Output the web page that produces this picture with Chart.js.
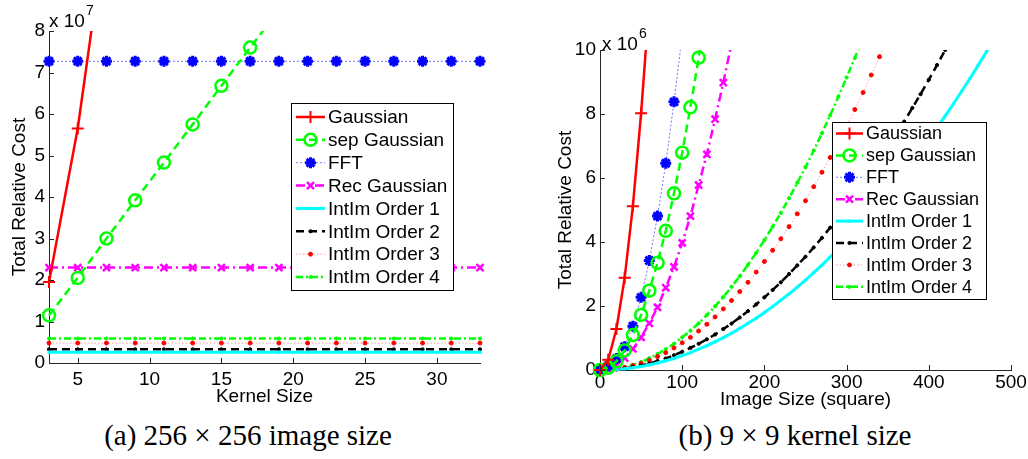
<!DOCTYPE html>
<html>
<head>
<meta charset="utf-8">
<script src="https://cdn.jsdelivr.net/npm/chart.js@4.4.1/dist/chart.umd.min.js"></script>
<style>
  body { margin: 0; background: #fff; width: 1028px; height: 459px; position: relative; overflow: hidden; }
  .box { position: absolute; top: 0; height: 415px; }
  .cap { position: absolute; top: 421px; font-family: "Liberation Serif", serif; font-size: 29px; line-height: 29px; white-space: nowrap; transform: translateX(-50%); }
</style>
</head>
<body>
<div class="box" style="left:0;width:505px"><canvas id="kernelChart"></canvas></div>
<div class="box" style="left:520px;width:508px"><canvas id="imageChart"></canvas></div>
<div class="cap" style="left:248px">(a) 256 × 256 image size</div>
<div class="cap" style="left:795px">(b) 9 × 9 kernel size</div>

<script>
// (a) 256x256 image : cost against kernel size, values in units of 1e7
const kernelSizes = [3, 5, 7, 9, 11, 13, 15, 17, 19, 21, 23, 25, 27, 29, 31, 33];
const kernelTicksX = [5, 10, 15, 20, 25, 30];
const kernelTicksY = [0, 1, 2, 3, 4, 5, 6, 7, 8];
const kGaussian = [1.95, 5.65, 10.6];
const kSepGaussian = [1.15, 2.05, 3.0, 3.92, 4.83, 5.75, 6.68, 7.6, 8.5];
const kFFT = [7.27, 7.27, 7.27, 7.27, 7.27, 7.27, 7.27, 7.27, 7.27, 7.27, 7.27, 7.27, 7.27, 7.27, 7.27, 7.27];
const kRecGaussian = [2.3, 2.3, 2.3, 2.3, 2.3, 2.3, 2.3, 2.3, 2.3, 2.3, 2.3, 2.3, 2.3, 2.3, 2.3, 2.3];
const kOrder1 = [0.26, 0.26, 0.26, 0.26, 0.26, 0.26, 0.26, 0.26, 0.26, 0.26, 0.26, 0.26, 0.26, 0.26, 0.26, 0.26];
const kOrder2 = [0.33, 0.33, 0.33, 0.33, 0.33, 0.33, 0.33, 0.33, 0.33, 0.33, 0.33, 0.33, 0.33, 0.33, 0.33, 0.33];
const kOrder3 = [0.48, 0.48, 0.48, 0.48, 0.48, 0.48, 0.48, 0.48, 0.48, 0.48, 0.48, 0.48, 0.48, 0.48, 0.48, 0.48];
const kOrder4 = [0.59, 0.59, 0.59, 0.59, 0.59, 0.59, 0.59, 0.59, 0.59, 0.59, 0.59, 0.59, 0.59, 0.59, 0.59, 0.59];

// (b) 9x9 kernel : cost against image size, values in units of 1e6
const imageSizes = [0, 10, 20, 30, 40, 50, 60, 70, 80, 90, 100, 110, 120, 130, 140, 150, 160, 170, 180, 190,
  200, 210, 220, 230, 240, 250, 260, 270, 280, 290, 300, 310, 320, 330, 340, 350, 360, 370, 380, 390,
  400, 410, 420, 430, 440, 450, 460, 470, 480, 490, 500];
const imageTicksX = [0, 100, 200, 300, 400, 500];
const imageTicksY = [0, 2, 4, 6, 8, 10];
const rGaussian = [0, 0.32, 1.28, 2.88, 5.12, 8.02, 11.5];
const rSepGaussian = [0, 0.07, 0.27, 0.61, 1.09, 1.72, 2.48, 3.35, 4.35, 5.52, 6.79, 8.21, 9.76, 11.46];
const rFFT = [0, 0.14, 0.36, 0.73, 1.37, 2.27, 3.42, 4.81, 6.46, 8.38, 10.45];
const rRecGaussian = [0, 0.04, 0.16, 0.37, 0.66, 1.02, 1.46, 1.96, 2.57, 3.22, 3.97, 4.81, 5.78, 6.74, 7.84, 8.98, 10.2];
const rOrder1 = [0, 0.005, 0.02, 0.04, 0.07, 0.11, 0.16, 0.22, 0.29, 0.36, 0.45, 0.54, 0.65, 0.76, 0.88, 1.01,
  1.15, 1.30, 1.46, 1.62, 1.80, 1.98, 2.18, 2.38, 2.59, 2.81, 3.04, 3.28, 3.53, 3.78, 4.05, 4.32, 4.61, 4.90,
  5.20, 5.51, 5.83, 6.16, 6.50, 6.84, 7.20, 7.56, 7.94, 8.32, 8.71, 9.11, 9.52, 9.94, 10.37];
const rOrder2 = [0, 0.006, 0.02, 0.05, 0.09, 0.14, 0.20, 0.28, 0.36, 0.46, 0.57, 0.69, 0.82, 0.96, 1.11, 1.28,
  1.45, 1.64, 1.84, 2.05, 2.27, 2.50, 2.74, 3.00, 3.27, 3.54, 3.83, 4.13, 4.45, 4.77, 5.10, 5.45, 5.81, 6.18,
  6.56, 6.95, 7.35, 7.76, 8.19, 8.62, 9.07, 9.53, 10.00, 10.48];
const rOrder3 = [0, 0.008, 0.03, 0.08, 0.14, 0.21, 0.30, 0.42, 0.54, 0.69, 0.85, 1.02, 1.22, 1.43, 1.66, 1.91,
  2.17, 2.45, 2.74, 3.06, 3.39, 3.74, 4.10, 4.48, 4.88, 5.29, 5.73, 6.18, 6.64, 7.12, 7.62, 8.14, 8.67, 9.22,
  9.79, 10.38];
const rOrder4 = [0, 0.01, 0.04, 0.09, 0.16, 0.25, 0.37, 0.50, 0.65, 0.82, 1.02, 1.23, 1.46, 1.72, 1.99, 2.28,
  2.60, 2.93, 3.29, 3.66, 4.06, 4.48, 4.91, 5.37, 5.85, 6.34, 6.86, 7.40, 7.96, 8.54, 9.14, 9.75, 10.39];

const seriesNames = ['Gaussian', 'sep Gaussian', 'FFT', 'Rec Gaussian',
  'IntIm Order 1', 'IntIm Order 2', 'IntIm Order 3', 'IntIm Order 4'];

// look of each series (MATLAB style)
const seriesLook = [
  { line: '#ff0000', width: 2.5, dash: [], point: 'cross', r: 6, pw: 2, pc: '#ff0000' },
  { line: '#00ff00', width: 2.5, dash: [8, 5], point: 'circle', r: 6, pw: 2.5, pc: '#00ff00', fill: 'rgba(0,0,0,0)' },
  { line: 'rgba(70,70,255,0.75)', width: 1, dash: [2, 2], point: 'star', r: 5.5, pw: 3, pc: '#0000ff' },
  { line: '#ff00ff', width: 2.5, dash: [9, 4, 2, 4], point: 'crossRot', r: 5, pw: 2.5, pc: '#ff00ff' },
  { line: '#00ffff', width: 3, dash: [], point: 'circle', r: 1.3, pw: 1, pc: '#00ffff' },
  { line: '#000000', width: 2.5, dash: [8, 5], point: 'circle', r: 1.6, pw: 1, pc: '#000000' },
  { line: 'rgba(255,60,60,0.5)', width: 1, dash: [1.5, 2], point: 'circle', r: 2, pw: 1, pc: '#ff0000' },
  { line: '#00ff00', width: 2.5, dash: [7, 3, 2, 3], point: 'circle', r: 1.6, pw: 1, pc: '#00ff00' }
];

Chart.defaults.font.family = '"Liberation Sans", Arial, sans-serif';
Chart.defaults.color = '#000';

function buildDatasets(xs, ys) {
  return ys.map((vals, i) => {
    const s = seriesLook[i];
    return {
      label: seriesNames[i],
      data: vals.map((v, j) => ({ x: xs[j], y: v })),
      borderColor: s.line,
      borderWidth: s.width,
      borderDash: s.dash,
      pointStyle: s.point,
      pointRadius: s.r,
      pointBorderWidth: s.pw,
      pointBorderColor: s.pc,
      pointBackgroundColor: s.fill || s.pc,
      fill: false,
      tension: 0,
      clip: { left: 10, right: 10, top: 0, bottom: 10 }
    };
  });
}

// legend drawn inside the plot, like matlab
const boxLegend = {
  id: 'boxLegend',
  afterDatasetsDraw(chart, args, o) {
    const ctx = chart.ctx;
    ctx.save();
    ctx.fillStyle = '#fff';
    ctx.fillRect(o.x, o.y, o.w, o.h);
    ctx.strokeStyle = '#000';
    ctx.lineWidth = 1;
    ctx.setLineDash([]);
    ctx.strokeRect(o.x + 0.5, o.y + 0.5, o.w, o.h);
    chart.data.datasets.forEach((ds, i) => {
      const cy = o.y + o.first + i * o.row;
      ctx.strokeStyle = ds.borderColor;
      ctx.lineWidth = ds.borderWidth;
      ctx.setLineDash(ds.borderDash);
      ctx.beginPath();
      ctx.moveTo(o.x + o.l0, cy);
      ctx.lineTo(o.x + o.l1, cy);
      ctx.stroke();
      ctx.setLineDash([]);
      ctx.strokeStyle = ds.pointBorderColor;
      ctx.fillStyle = ds.pointBackgroundColor;
      ctx.lineWidth = ds.pointBorderWidth;
      Chart.helpers.drawPoint(ctx, { pointStyle: ds.pointStyle, radius: ds.pointRadius, borderWidth: ds.pointBorderWidth, rotation: 0 },
        o.x + (o.l0 + o.l1) / 2, cy);
      ctx.fillStyle = '#000';
      ctx.font = o.size + 'px "Liberation Sans", Arial, sans-serif';
      ctx.textBaseline = 'middle';
      ctx.fillText(ds.label, o.x + o.tx, cy + 1);
    });
    ctx.restore();
  }
};

// ticks pointing into the plot + the "x 10^n" multiplier
const axisExtras = {
  id: 'axisExtras',
  afterDraw(chart, args, o) {
    const { ctx, chartArea } = chart;
    const sx = chart.scales.x, sy = chart.scales.y;
    ctx.save();
    ctx.strokeStyle = '#262626';
    ctx.lineWidth = 1;
    sx.ticks.forEach(t => {
      const px = Math.round(sx.getPixelForValue(t.value)) + 0.5;
      ctx.beginPath(); ctx.moveTo(px, chartArea.bottom); ctx.lineTo(px, chartArea.bottom - 5); ctx.stroke();
    });
    sy.ticks.forEach(t => {
      const py = Math.round(sy.getPixelForValue(t.value)) + 0.5;
      ctx.beginPath(); ctx.moveTo(chartArea.left, py); ctx.lineTo(chartArea.left + 5, py); ctx.stroke();
    });
    ctx.fillStyle = '#000';
    ctx.textBaseline = 'alphabetic';
    ctx.font = '19px "Liberation Sans", Arial, sans-serif';
    ctx.fillText('x 10', o.x, o.y);
    const w = ctx.measureText('x 10').width;
    ctx.font = '14px "Liberation Sans", Arial, sans-serif';
    ctx.fillText(o.exp, o.x + w + 1, o.y - 12);
    ctx.restore();
  }
};

function axisConf(min, max, tickVals, title, titlePad, tickPad, size, horizontal) {
  return {
    type: 'linear',
    min: min,
    max: max,
    afterBuildTicks: s => { s.ticks = tickVals.map(v => ({ value: v })); },
    afterFit: s => { if (horizontal) s.height = size; else s.width = size; },
    grid: { display: false, drawTicks: false },
    border: { display: true, color: '#262626', width: 1 },
    ticks: { font: { size: 19 }, padding: tickPad, maxRotation: 0, autoSkip: false },
    title: { display: true, text: title, font: { size: 19 }, padding: titlePad }
  };
}

function makeChart(id, xs, ys, sc, legend, expo, pad) {
  return new Chart(document.getElementById(id), {
    type: 'line',
    data: { datasets: buildDatasets(xs, ys) },
    options: {
      responsive: true,
      maintainAspectRatio: false,
      animation: false,
      events: [],
      layout: { padding: pad },
      scales: sc,
      plugins: {
        legend: { display: false },
        tooltip: { enabled: false },
        boxLegend: legend,
        axisExtras: expo
      }
    },
    plugins: [boxLegend, axisExtras]
  });
}

makeChart('kernelChart', kernelSizes,
  [kGaussian, kSepGaussian, kFFT, kRecGaussian, kOrder1, kOrder2, kOrder3, kOrder4],
  {
    x: axisConf(3, 33, kernelTicksX, 'Kernel Size', { top: 0, bottom: 7 }, 5, 52, true),
    y: axisConf(0, 8, kernelTicksY, 'Total Relative Cost', { top: 8, bottom: 0 }, 4, 49, false)
  },
  { x: 291, y: 103, w: 162, h: 187, first: 14, row: 22.86, l0: 5, l1: 34, tx: 37, size: 19 },
  { x: 49, y: 27, exp: '7' },
  { top: 31, right: 25, left: 0, bottom: 0 });

makeChart('imageChart', imageSizes,
  [rGaussian, rSepGaussian, rFFT, rRecGaussian, rOrder1, rOrder2, rOrder3, rOrder4],
  {
    x: axisConf(0, 500, imageTicksX, 'Image Size (square)', { top: 0, bottom: 4 }, 1, 45, true),
    y: axisConf(0, 10, imageTicksY, 'Total Relative Cost', { top: 34, bottom: 0 }, 4, 80, false)
  },
  { x: 312, y: 122, w: 154, h: 177, first: 11.5, row: 21.9, l0: 4, l1: 31, tx: 34, size: 18 },
  { x: 82, y: 50, exp: '6' },
  { top: 50, right: 17, left: 0, bottom: 0 });
</script>
</body>
</html>
